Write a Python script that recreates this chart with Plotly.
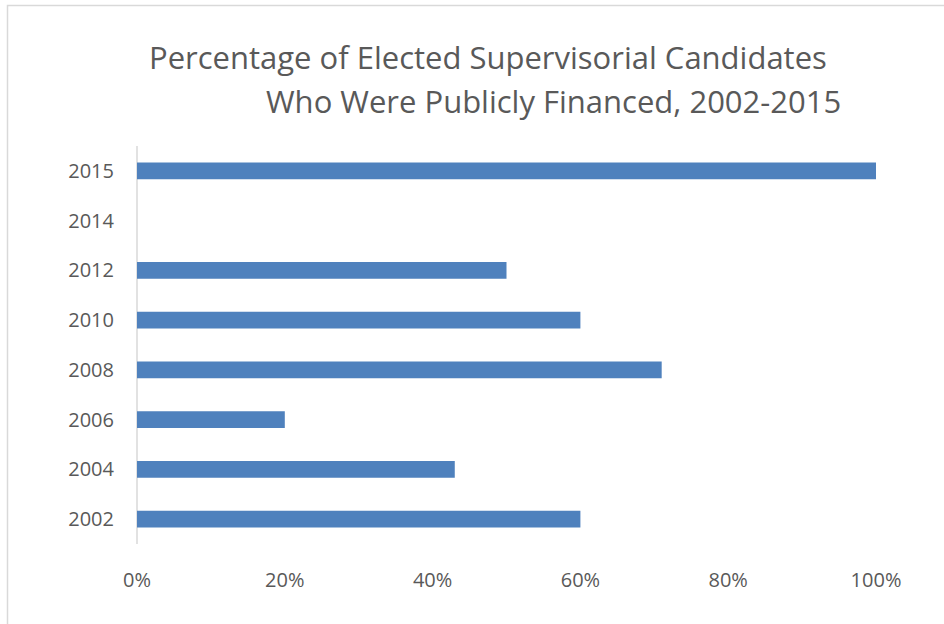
import plotly.graph_objects as go

years = ["2002", "2004", "2006", "2008", "2010", "2012", "2014", "2015"]
pct = [0.60, 0.43, 0.20, 0.71, 0.60, 0.50, 0.0, 1.00]
x_ticks = [0, 0.2, 0.4, 0.6, 0.8, 1.0]
x_tick_labels = ["0%", "20%", "40%", "60%", "80%", "100%"]
title_lines = ["Percentage of Elected Supervisorial Candidates",
               "Who Were Publicly Financed, 2002-2015"]

W, H = 944, 624
L, R, T, B = 137, 876, 146, 544

def px(x):
    return (x - L) / (R - L)

def py(y):
    return (B - y) / (B - T)

fig = go.Figure(go.Bar(
    y=years, x=pct, orientation="h",
    marker=dict(color="#4F81BD", line=dict(width=0)),
    width=0.34,
))

font = "Open Sans, Liberation Sans, sans-serif"
fig.update_layout(
    width=W, height=H,
    margin=dict(l=L, r=W - R, t=T, b=H - B),
    paper_bgcolor="white", plot_bgcolor="white",
    showlegend=False,
    font=dict(family=font, color="#595959", size=20),
    xaxis=dict(range=[0, 1], tickvals=x_ticks, ticktext=x_tick_labels,
               showgrid=False, zeroline=False, showline=False,
               ticks="", tickfont=dict(size=20, color="#595959"),
               ticklabelstandoff=22, fixedrange=True),
    yaxis=dict(type="category", categoryorder="array", categoryarray=years,
               range=[-0.5, 7.5], showgrid=False, zeroline=False,
               showline=False, ticks="", ticklabelstandoff=22,
               tickfont=dict(size=20, color="#595959"), fixedrange=True),
    shapes=[
        dict(type="line", xref="paper", yref="paper", x0=0, x1=0,
             y0=0, y1=1, line=dict(color="#D9D9D9", width=1.5), layer="below"),
        dict(type="rect", xref="paper", yref="paper",
             x0=px(7.5), x1=px(1000), y0=py(5.5), y1=py(700),
             line=dict(color="#D9D9D9", width=1.5)),
    ],
    annotations=[
        dict(text=title_lines[0], xref="paper", yref="paper",
             x=px(488), y=py(57), xanchor="center", yanchor="middle",
             showarrow=False, font=dict(family=font, size=31, color="#595959")),
        dict(text=title_lines[1], xref="paper", yref="paper",
             x=px(553), y=py(101), xanchor="center", yanchor="middle",
             showarrow=False, font=dict(family=font, size=31, color="#595959")),
    ],
)
fig.write_html("out.html",
               config=dict(displayModeBar=False, staticPlot=True),
               post_script="document.body.style.margin='0';document.body.style.overflow='hidden';")
